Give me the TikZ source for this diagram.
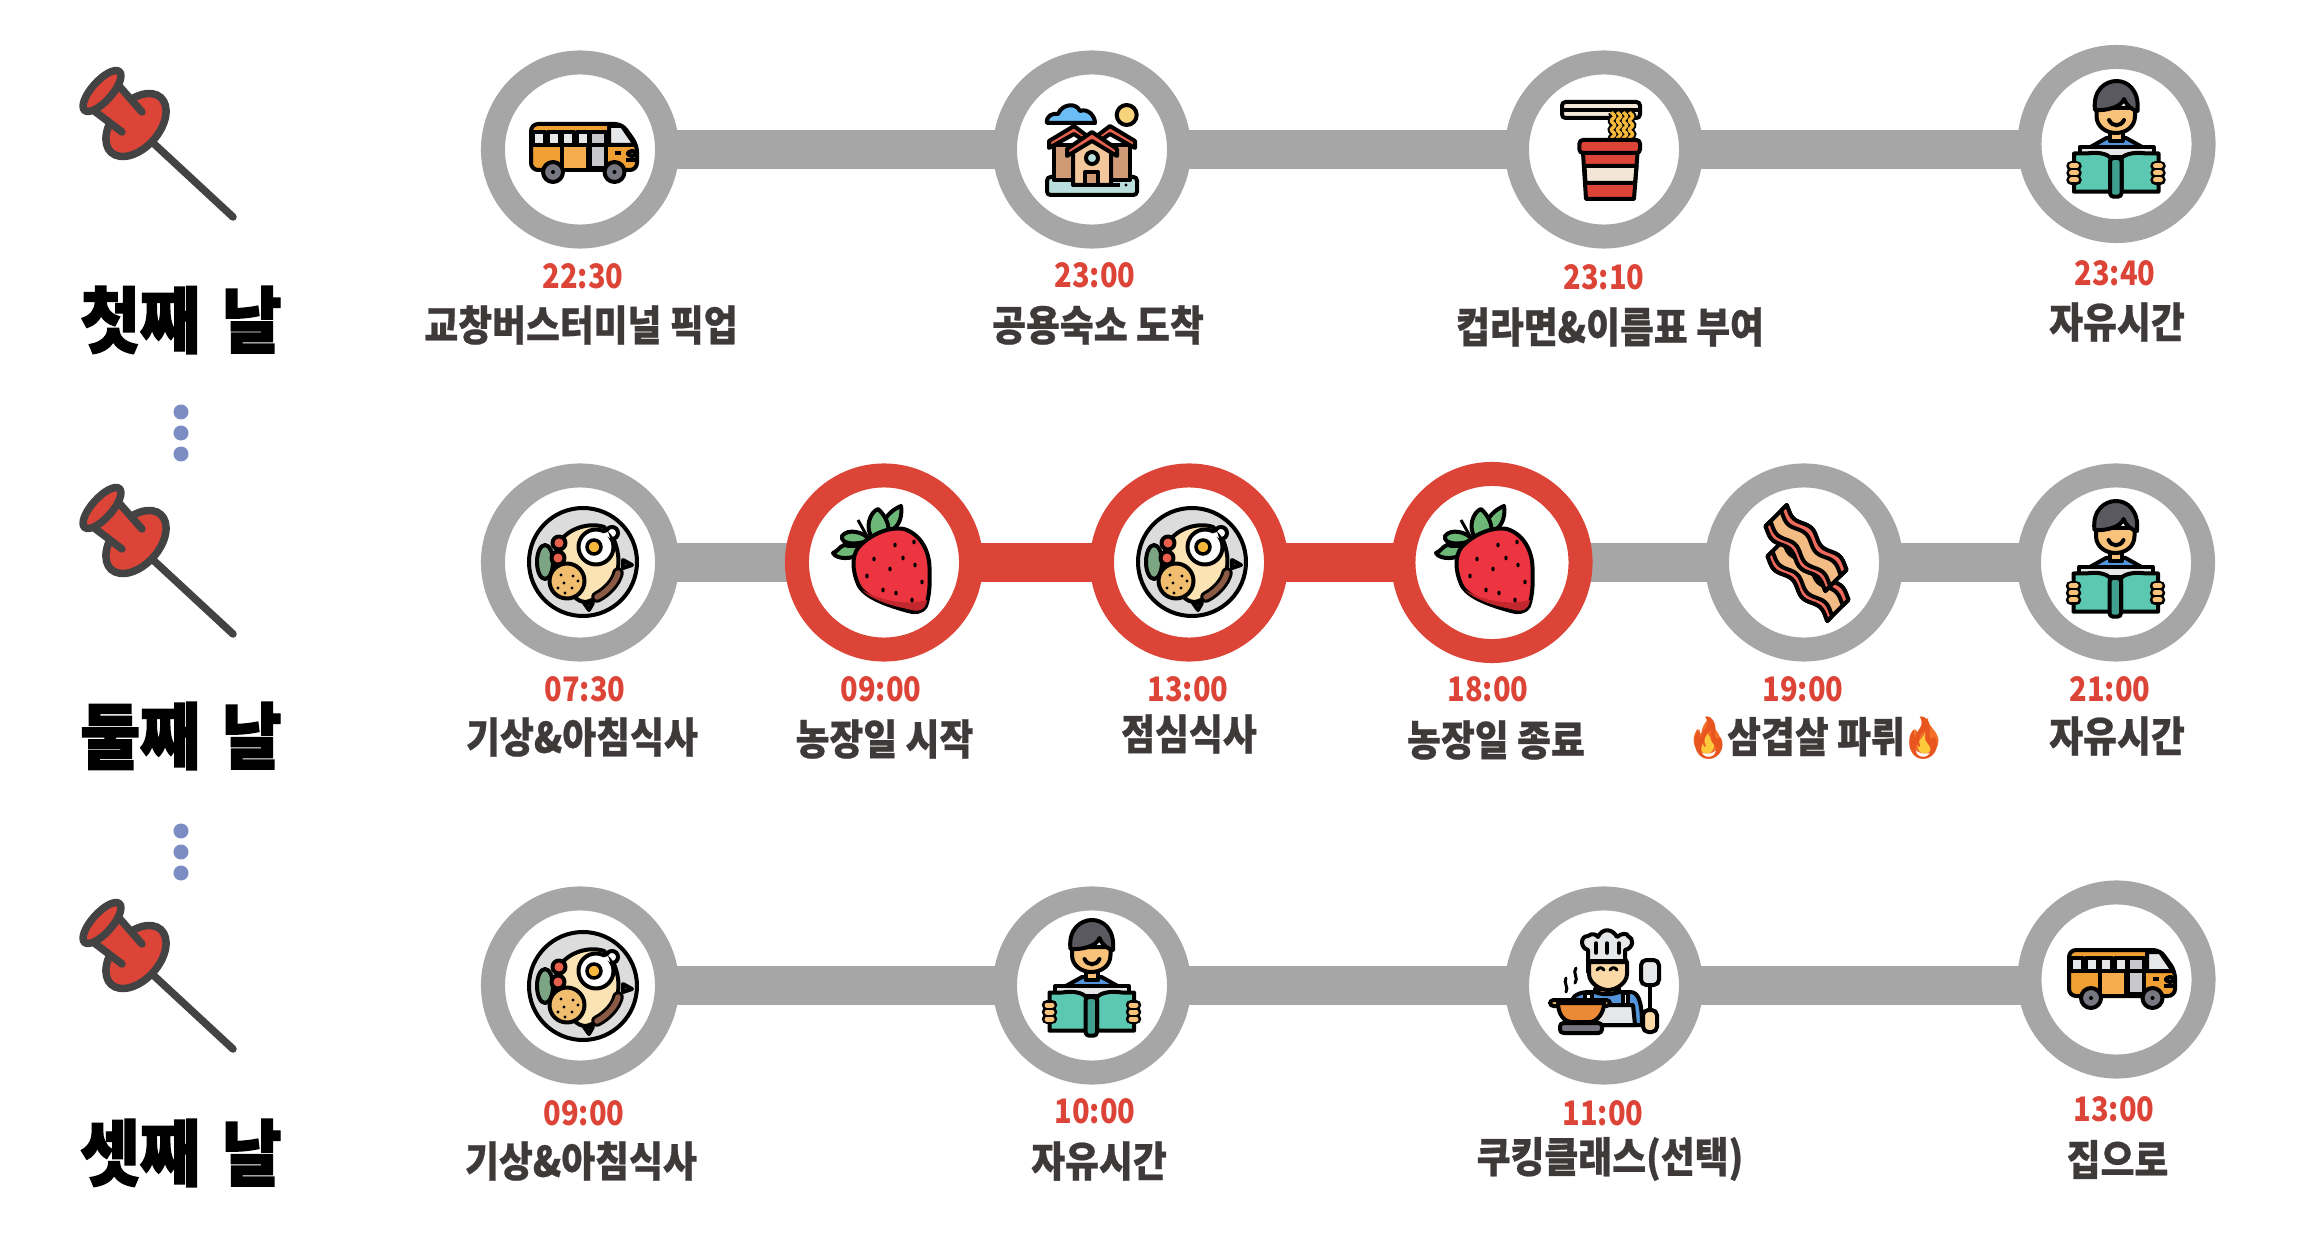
\documentclass[tikz,border=0pt]{standalone}
\usepackage{fontspec}
\usepackage{xcolor}
\usepackage{tikz}
\usetikzlibrary{backgrounds}
\newfontfamily\labelfont[FakeStretch=.88,FakeBold=.6]{Noto Sans CJK KR}
\newfontfamily\timefont[FakeStretch=.86]{Noto Sans CJK KR}
\newfontfamily\dayfont[FakeStretch=.9,FakeBold=2]{Noto Sans CJK KR}
\newfontfamily\emojifont[FakeStretch=.85]{Noto Emoji}
\definecolor{ringgrey}{HTML}{A6A6A6}
\definecolor{ringred}{HTML}{DD4438}
\definecolor{inkgrey}{HTML}{3E3A39}
\definecolor{dotblue}{HTML}{7C8DC4}
\definecolor{pinline}{HTML}{434343}
\definecolor{busorange}{HTML}{F09F33}
\definecolor{buslight}{HTML}{F5AD4D}
\definecolor{glass}{HTML}{E6E7E9}
\definecolor{doorgrey}{HTML}{C8C8CC}
\definecolor{wheelgrey}{HTML}{777781}
\definecolor{skyblue}{HTML}{6BBDF5}
\definecolor{sunyellow}{HTML}{F7D37B}
\definecolor{lawn}{HTML}{BADDDD}
\definecolor{wallbrown}{HTML}{D09A77}
\definecolor{wallskin}{HTML}{F3C79B}
\definecolor{roofred}{HTML}{E8604C}
\definecolor{cream}{HTML}{F4E6D6}
\definecolor{noodle}{HTML}{F5B83A}
\definecolor{skin}{HTML}{F9C27A}
\definecolor{hair}{HTML}{59595F}
\definecolor{shirt}{HTML}{5494DA}
\definecolor{bookteal}{HTML}{5CC8B1}
\definecolor{spineteal}{HTML}{3FA08F}
\definecolor{plategrey}{HTML}{DCDCDC}
\definecolor{ricecream}{HTML}{FBE3B4}
\definecolor{lettuce}{HTML}{7BA583}
\definecolor{cookie}{HTML}{F0BE6E}
\definecolor{sausage}{HTML}{8B5A44}
\definecolor{berry}{HTML}{EC3540}
\definecolor{berrydark}{HTML}{C1272D}
\definecolor{leafgreen}{HTML}{6DB877}
\definecolor{bacon}{HTML}{F3BC85}
\definecolor{baconred}{HTML}{EF6A5C}
\definecolor{potorange}{HTML}{EA8A36}
\definecolor{chefskin}{HTML}{FAD9A6}
\definecolor{firered}{HTML}{E8551F}
\definecolor{fireorange}{HTML}{F4702A}
\definecolor{fireyellow}{HTML}{FFC93C}

\begin{document}
\begin{tikzpicture}[
	x=.01cm, y=-.01cm,
	ringgrey node/.style={circle, draw=ringgrey, fill=white, line width=.24cm, minimum size=1.74cm, inner sep=0pt, outer sep=0pt},
	ringred node/.style={circle, draw=ringred, fill=white, line width=.24cm, minimum size=1.74cm, inner sep=0pt, outer sep=0pt},
	bargrey/.style={line width=.38cm, ringgrey},
	barred/.style={line width=.38cm, ringred},
	timetext/.style={inner sep=0pt, text=ringred, font=\timefont\bfseries\fontsize{9.6}{11}\selectfont},
	placetext/.style={inner sep=0pt, text=inkgrey, font=\labelfont\bfseries\fontsize{11.9}{13}\selectfont},
	daytext/.style={inner sep=0pt, text=black, font=\dayfont\bfseries\fontsize{20.5}{22}\selectfont},
	dotnode/.style={circle, fill=dotblue, minimum size=.15cm, inner sep=0pt},
	ol/.style={draw=black, line width=.04cm, line join=round},
	pin/.pic={
		\draw[pinline, line width=.075cm, line cap=round] (151,141) -- (233,217);
		\begin{scope}[shift={(136,125)}, rotate=48]
			\draw[draw=pinline, fill=ringred, line width=.075cm] (0,0) ellipse [x radius=37, y radius=23];
		\end{scope}
		\fill[ringred] (120,87) -- (142,112) -- (122,132) -- (93,110) -- cycle;
		\draw[pinline, line width=.075cm, line cap=round] (120,87) -- (142,112);
		\draw[pinline, line width=.075cm, line cap=round] (93,110) -- (122,132);
		\begin{scope}[shift={(102,91)}, rotate=48]
			\draw[draw=pinline, fill=ringred, line width=.075cm] (0,0) ellipse [x radius=26, y radius=10];
		\end{scope}
	},
	bus/.pic={
		\draw[ol, fill=busorange, rounded corners=2pt] (-49,-26) -- (42,-26) -- (57,-5) -- (57,20) -- (-49,20) -- cycle;
		\draw[ol, fill=glass] (29,-24) -- (42,-24) -- (55,-5) -- (29,-5) -- cycle;
		\foreach \x in {-47,-32,-18,-3} \draw[ol, fill=glass] (\x,-18) rectangle ++(11.5,13);
		\draw[ol, fill=doorgrey] (10,-18) rectangle (26,18);
		\draw[ol, fill=buslight] (-18,-5) rectangle (8,20);
		\draw[ol] (-49,-5) -- (29,-5);
		\draw[ol] (35,3) -- (41,3);
		\draw[ol] (46,10) -- (56,10);
		\draw[ol, fill=white, rounded corners=1pt] (48,1) rectangle (56,6);
		\foreach \x in {-27,34.5} {
			\draw[ol, fill=wheelgrey] (\x,22) circle [radius=10];
			\fill (\x,22) circle [radius=2];
		}
	},
	houses/.pic={
		\draw[ol, fill=skyblue] (-45,-27) .. controls (-46,-34) and (-40,-37) .. (-34,-36) .. controls (-30,-46) and (-16,-48) .. (-12,-39) .. controls (-4,-42) and (3,-34) .. (3,-27) -- cycle;
		\draw[ol, fill=sunyellow] (34.7,-35) circle [radius=10];
		\draw[ol, fill=lawn, rounded corners=1pt] (-45,27) rectangle (45,45);
		\draw[ol, fill=wallbrown] (-38,-5) rectangle (-10,30);
		\draw[ol, fill=wallbrown] (10,-5) rectangle (38,30);
		\draw[ol, fill=roofred] (-43,-9) -- (-18,-24) -- (3,-8) -- (3,-2) -- (-18,-16) -- (-43,-2) -- cycle;
		\draw[ol, fill=roofred] (43,-9) -- (18,-24) -- (-3,-8) -- (-3,-2) -- (18,-16) -- (43,-2) -- cycle;
		\draw[ol, fill=wallskin] (-19,0) -- (0,-10) -- (19,0) -- (19,35) -- (-19,35) -- cycle;
		\draw[ol, fill=roofred] (-25,-1) -- (0,-18) -- (25,-1) -- (25,6) -- (0,-9) -- (-25,6) -- cycle;
		\draw[ol, fill=lawn] (0,8) circle [radius=6];
		\draw[ol, fill=wallbrown] (-7,22) rectangle (6,35);
		\draw[ol] (-19,35) -- (28,35);
		\fill (34,35) circle [radius=1.6];
	},
	cupnoodle/.pic={
		\draw[ol, fill=cream, rounded corners=1pt] (-42,-48) rectangle (36,-32);
		\draw[ol] (-42,-40) -- (36,-40);
		\foreach \x in {9,15,21,27} {
			\draw[black, line width=.075cm] plot[domain=-38:-10, samples=25, variable=\t] ({\x+1.6*sin(\t*40)},\t);
		}
		\foreach \x in {9,15,21,27} {
			\draw[noodle, line width=.035cm] plot[domain=-38:-10, samples=25, variable=\t] ({\x+1.6*sin(\t*40)},\t);
		}
		\draw[ol, fill=ringred] (-21,3) -- (33.5,3) -- (30,49) -- (-18,49) -- cycle;
		\draw[ol, fill=cream] (-19.5,16) -- (32.5,16) -- (31,33) -- (-18.5,33) -- cycle;
		\draw[ol, fill=ringred, rounded corners=1pt] (-24.6,-10) rectangle (36,3);
	},
	reader/.pic={
		\draw[ol, fill=shirt] (-31.5,6) -- (-10,-6) -- (9.5,-6) -- (31,6) -- cycle;
		\draw[ol, fill=skin] (-6.5,-14) rectangle (6,-3);
		\draw[ol, fill=skin] (-20,-36) -- (18.5,-36) -- (18.5,-28) .. controls (18.5,-17) and (9,-11) .. (-.5,-11) .. controls (-10,-11) and (-20,-17) .. (-20,-28) -- cycle;
		\draw[ol, fill=hair] (-21.5,-34) .. controls (-24,-54) and (-11,-63) .. (0,-63) .. controls (11,-63) and (23,-54) .. (21,-33) .. controls (16,-34) and (10,-38) .. (7.5,-45) .. controls (5,-37) and (-10,-33) .. (-21.5,-34) -- cycle;
		\draw[black, line width=.04cm, line cap=round] (-7.5,-24) .. controls (-4,-17) and (4,-17) .. (7.5,-24);
		\draw[ol, fill=glass] (-37,3) -- (37,3) -- (37,13) -- (-37,13) -- cycle;
		\draw[ol, fill=bookteal] (-42.5,9.5) -- (-30,9.5) .. controls (-20,8) and (-10,9) .. (-6,14) -- (-6,47.7) -- (-42.5,47.7) -- cycle;
		\draw[ol, fill=bookteal] (42,9.5) -- (30,9.5) .. controls (20,8) and (10,9) .. (5,14) -- (5,47.7) -- (42,47.7) -- cycle;
		\draw[ol, fill=spineteal, rounded corners=1pt] (-6.5,14) rectangle (5,52.7);
		\foreach \y in {22,29,36} {
			\draw[black, line width=.105cm, line cap=round] (-45,\y) -- (-40,\y);
			\draw[black, line width=.105cm, line cap=round] (39,\y) -- (44,\y);
		}
		\foreach \y in {22,29,36} {
			\draw[skin, line width=.05cm, line cap=round] (-45,\y) -- (-40,\y);
			\draw[skin, line width=.05cm, line cap=round] (39,\y) -- (44,\y);
		}
	},
	plate/.pic={
		\draw[ol, fill=plategrey] (3,0) circle [radius=54];
		\draw[ol, fill=lettuce] (-35,0) ellipse [x radius=8, y radius=17];
		\draw[ol, fill=sausage] (43,-2) -- (52,3) -- (43,6) -- cycle;
		\draw[ol, fill=sausage] (4,41) -- (13,41) -- (9,48) -- cycle;
		\draw[ol, fill=ricecream] (-20,-20) .. controls (-12,-34) and (10,-40) .. (24,-35) .. controls (36,-26) and (40,-6) .. (38,6) .. controls (34,22) and (22,36) .. (6,40) .. controls (-12,40) and (-20,10) .. (-20,-20) -- cycle;
		\draw[ol, fill=white] (32,-29) circle [radius=6];
		\draw[ol, fill=white] (16,-15) circle [radius=17.5];
		\fill[white] (22,-28) -- (30,-24) -- (28,-30) -- cycle;
		\draw[black, line width=.035cm, fill=noodle] (14,-15) circle [radius=7];
		\draw[ol, fill=roofred] (-21,-19) circle [radius=6.5];
		\draw[ol, fill=roofred] (-22,-4) circle [radius=6.5];
		\draw[ol, fill=cookie] (-13,19) circle [radius=17.5];
		\foreach \a/\b in {-19/13,-7/14,-2/19,-16/21,-8/26,-22/26,-15/31} \fill (\a,\b) circle [radius=1.7];
		\draw[black, line width=.115cm, line cap=round] (38,11) .. controls (36,20) and (27,30) .. (17,35);
		\draw[sausage, line width=.055cm, line cap=round] (38,11) .. controls (36,20) and (27,30) .. (17,35);
	},
	strawberry/.pic={
		\draw[black, line width=.03cm] (-26,-42) -- (-16,-24);
		\draw[ol, fill=leafgreen] (-31,-5) .. controls (-42,-2) and (-50,-6) .. (-51,-9) .. controls (-44,-12) and (-42,-20) .. (-36,-16) -- (-14,-16) -- cycle;
		\draw[ol, fill=leafgreen] (-14,-22) .. controls (-28,-16) and (-44,-18) .. (-42,-26) .. controls (-36,-34) and (-20,-30) .. (-14,-22) -- cycle;
		\draw[ol, fill=leafgreen] (4,-30) .. controls (18,-35) and (18,-50) .. (17,-56) .. controls (8,-52) and (0,-46) .. (-4,-30) -- cycle;
		\draw[ol, fill=leafgreen] (-11,-23) .. controls (-20,-34) and (-14,-50) .. (-6,-53) .. controls (2,-46) and (6,-36) .. (4,-28) -- cycle;
		\draw[ol, fill=berry] (20,-33) .. controls (36,-28) and (45,-12) .. (45.5,5) .. controls (46,20) and (46,32) .. (42,44) .. controls (38,51) and (30,51) .. (24,49) .. controls (6,44) and (-20,36) .. (-26,22) .. controls (-32,8) and (-32,-6) .. (-26,-14) .. controls (-16,-26) and (4,-36) .. (20,-33) -- cycle;
		\fill[berrydark] (-22,28) .. controls (-5,38) and (20,44) .. (43,38) .. controls (42,48) and (34,51) .. (24,47) .. controls (8,44) and (-12,38) .. (-22,28) -- cycle;
		\foreach \a/\b in {11/-17,30/-20,-10/-3,19/-4,31/3,-17/14,6/7,38/20,12/31,-1/28,28/38} \fill (\a,\b) circle [x radius=1.7, y radius=2.4];
	},
	baconstrip/.pic={
		\draw[ol, fill=bacon] plot[domain=-44:44, samples=30, variable=\t] (\t,{-15+3*sin(\t*9)}) -- plot[domain=44:-44, samples=30, variable=\t] (\t,{15+3*sin(\t*9)}) -- cycle;
		\draw[ol, fill=baconred] plot[domain=-44:44, samples=30, variable=\t] (\t,{-15+3*sin(\t*9)}) -- plot[domain=44:-44, samples=30, variable=\t] (\t,{-7+3*sin(\t*9)}) -- cycle;
		\draw[ol, fill=baconred] plot[domain=-44:44, samples=30, variable=\t] (\t,{8+3*sin(\t*9)}) -- plot[domain=44:-44, samples=30, variable=\t] (\t,{15+3*sin(\t*9)}) -- cycle;
	},
	baconrack/.pic={
		\pic[rotate=-45] at (4,16) {baconstrip};
		\pic[rotate=-45] at (2,-14) {baconstrip};
	},
	chef/.pic={
		\draw[ol, fill=shirt] (-32,39) -- (-32,14) .. controls (-30,8) and (-22,6) .. (-14,6) -- (26,6) .. controls (34,6) and (38,14) .. (38,39) -- cycle;
		\draw[ol, fill=white] (-19,7) rectangle (-12,20);
		\draw[ol, fill=white] (19,7) rectangle (24,20);
		\draw[ol, fill=glass] (-14,19) -- (29,19) -- (31,39) -- (-14,39) -- cycle;
		\draw[ol, fill=skin] (-9,3) -- (15,3) -- (15,6) .. controls (8,9) and (-2,9) .. (-9,6) -- cycle;
		\draw[ol, fill=hair] (-16,-26) rectangle (22,-14);
		\draw[ol, fill=chefskin] (-15,-24) -- (23,-24) -- (23,-12) .. controls (23,-3) and (12,4) .. (4,4) .. controls (-4,4) and (-15,-3) .. (-15,-12) -- cycle;
		\draw[ol, fill=glass] (-16,-25) -- (-16,-36) .. controls (-24,-38) and (-24,-50) .. (-16,-50) .. controls (-12,-53) and (-8,-52) .. (-6,-49) .. controls (-2,-58) and (8,-58) .. (13,-49) .. controls (17,-53) and (24,-53) .. (24,-50) .. controls (30,-48) and (30,-38) .. (21,-36) -- (21,-25) -- cycle;
		\foreach \x in {-8,3,15} \draw[black, line width=.035cm, line cap=round] (\x,-43) -- (\x,-33);
		\draw[black, line width=.03cm, line cap=round] (-7,-16) .. controls (-5,-19) and (-2,-19) .. (0,-16);
		\draw[black, line width=.03cm, line cap=round] (6,-16) .. controls (8,-19) and (11,-19) .. (13,-16);
		\draw[black, line width=.03cm, line cap=round] (-28,-18) .. controls (-32,-13) and (-25,-8) .. (-29,-3);
		\draw[black, line width=.03cm, line cap=round] (-38,-8) .. controls (-41,-3) and (-35,1) .. (-38,6);
		\draw[black, line width=.045cm] (46,-1) -- (46,26);
		\draw[ol, fill=glass, rounded corners=1.5pt] (37,-26) rectangle (55,-1);
		\draw[ol, fill=chefskin, rounded corners=1.5pt] (39,24) rectangle (53,46);
		\draw[ol, fill=wheelgrey, rounded corners=1pt] (-44,37) rectangle (-2,47);
		\draw[ol, fill=skin, rounded corners=1pt] (-54,14) rectangle (6,20);
		\draw[ol, fill=potorange] (-46,17) -- (0,17) .. controls (0,28) and (-8,36) .. (-14,36) -- (-32,36) .. controls (-40,36) and (-46,28) .. (-46,17) -- cycle;
	},
	flame/.pic={
		\fill[fireorange] (0,17.5) .. controls (-9,17.5) and (-13.5,11) .. (-13.5,4) .. controls (-13.5,-1) and (-11,-4) .. (-10,-7) .. controls (-8,-5) and (-7,-3) .. (-6,-2) .. controls (-5,-9) and (-2,-15) .. (3,-18) .. controls (2,-10) and (13.5,-5) .. (13.5,5) .. controls (13.5,12) and (8,17.5) .. (0,17.5) -- cycle;
		\fill[fireyellow] (0,17.5) .. controls (-6,17.5) and (-8,12) .. (-7,8) .. controls (-6,4) and (-2,2) .. (0,-3) .. controls (3,2) and (8,5) .. (7,10) .. controls (6,15) and (3,17.5) .. (0,17.5) -- cycle;
	},
]
\useasboundingbox (0,0) rectangle (2308,1258);

\pic at (0,0) {pin};
\pic at (0,417) {pin};
\pic at (0,832) {pin};
\node[daytext] (day1) at (181,320) {첫째\hspace{.1em} 날};
\node[daytext] (day2) at (181,736) {둘째\hspace{.1em} 날};
\node[daytext] (day3) at (181,1153) {셋째\hspace{.1em} 날};
\node[dotnode] (d1) at (181,412) {};
\node[dotnode] (d2) at (181,433) {};
\node[dotnode] (d3) at (181,454) {};
\node[dotnode] (d4) at (181,831) {};
\node[dotnode] (d5) at (181,852) {};
\node[dotnode] (d6) at (181,873) {};

\node[ringgrey node] (a1) at (580,149.5) {};
\node[ringgrey node] (a2) at (1092,149.5) {};
\node[ringgrey node] (a3) at (1604,149.5) {};
\node[ringgrey node] (a4) at (2116.5,144) {};
\pic at (580,150) {bus};
\pic at (1092,150) {houses};
\pic at (1604,150) {cupnoodle};
\pic at (2116.5,144) {reader};
\node[timetext] (t11) at (583,276) {22:30};
\node[placetext] (p11) at (581,325) {교창버스터미널 픽업};
\node[timetext] (t12) at (1095,275) {23:00};
\node[placetext] (p12) at (1098,325) {공용숙소 도착};
\node[timetext] (t13) at (1604,277) {23:10};
\node[placetext] (p13) at (1610,327) {컵라면\&이름표 부여};
\node[timetext] (t14) at (2115,273) {23:40};
\node[placetext] (p14) at (2117,322) {자유시간};

\node[ringgrey node] (b1) at (580,562.5) {};
\node[ringred node] (b2) at (884,562.5) {};
\node[ringred node] (b3) at (1189,562.5) {};
\node[ringred node, minimum size=1.77cm] (b4) at (1492,562.5) {};
\node[ringgrey node] (b5) at (1804,562.5) {};
\node[ringgrey node] (b6) at (2116,562.5) {};
\pic at (580,562) {plate};
\pic at (884,562) {strawberry};
\pic at (1189,562) {plate};
\pic at (1487,562) {strawberry};
\pic at (1804,562) {baconrack};
\pic at (2116,564) {reader};
\node[timetext] (t21) at (585,689) {07:30};
\node[placetext] (p21) at (582,737) {기상\&아침식사};
\node[timetext] (t22) at (881,689) {09:00};
\node[placetext] (p22) at (884.5,739) {농장일 시작};
\node[timetext] (t23) at (1188,689) {13:00};
\node[placetext] (p23) at (1189,734) {점심식사};
\node[timetext] (t24) at (1488,689) {18:00};
\node[placetext] (p24) at (1496,740) {농장일 종료};
\node[timetext] (t25) at (1803,689) {19:00};
\pic at (1707,736) {flame};
\pic at (1925,736) {flame};
\node[placetext] (p25) at (1816,738) {{\emojifont\color{firered}🔥}\hspace{-.1em}삼겹살 파뤼\hspace{-.1em}{\emojifont\color{firered}🔥}};
\node[timetext] (t26) at (2110,689) {21:00};
\node[placetext] (p26) at (2117,736) {자유시간};

\node[ringgrey node] (c1) at (580,985.5) {};
\node[ringgrey node] (c2) at (1092,985.5) {};
\node[ringgrey node] (c3) at (1604,985.5) {};
\node[ringgrey node] (c4) at (2116.5,979.5) {};
\pic at (580,986) {plate};
\pic at (1092,983) {reader};
\pic at (1604,986) {chef};
\pic at (2118,976) {bus};
\node[timetext] (t31) at (584,1113) {09:00};
\node[placetext] (p31) at (581,1161) {기상\&아침식사};
\node[timetext] (t32) at (1095,1111) {10:00};
\node[placetext] (p32) at (1099,1161) {자유시간};
\node[timetext] (t33) at (1603,1113) {11:00};
\node[placetext] (p33) at (1610,1159) {쿠킹클래스(선택)};
\node[timetext] (t34) at (2114,1109.5) {13:00};
\node[placetext] (p34) at (2117.5,1159.5) {집으로};

\begin{scope}[on background layer]
\draw[bargrey] (a1) -- (a2);
\draw[bargrey] (a2) -- (a3);
\draw[bargrey] (a3) -- (a3 -| a4);
\draw[bargrey] (b1) -- (b2);
\draw[barred] (b2) -- (b3);
\draw[barred] (b3) -- (b4);
\draw[bargrey] (b4) -- (b5);
\draw[bargrey] (b5) -- (b6);
\draw[bargrey] (c1) -- (c2);
\draw[bargrey] (c2) -- (c3);
\draw[bargrey] (c3) -- (c3 -| c4);
\end{scope}
\end{tikzpicture}
\end{document}
